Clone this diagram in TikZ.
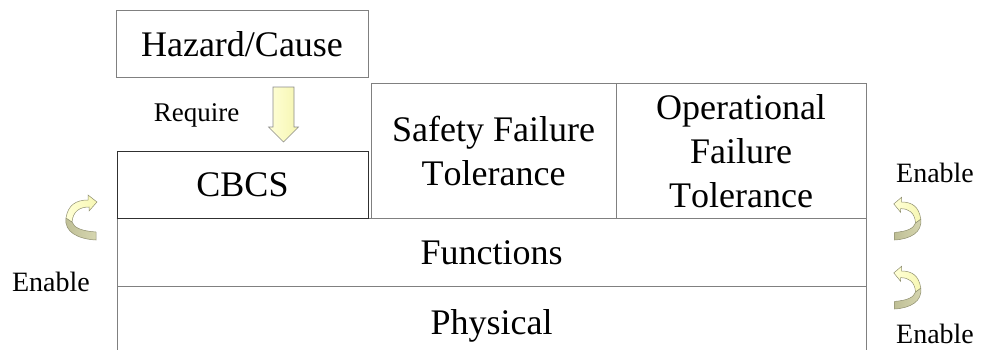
\documentclass[tikz,border=0pt]{standalone}
\usepackage{fontspec}
\setmainfont{Liberation Serif}[Kerning=Off]
\newfontfamily\layerfont{Liberation Serif}[Kerning=Off]

\definecolor{boxgray}{HTML}{808080}
\definecolor{cbcsline}{HTML}{303030}
\definecolor{ribbonlight}{HTML}{FFFFD6}
\definecolor{ribbonlightB}{HTML}{F7F7B4}
\definecolor{ribbondark}{HTML}{D6D6B0}
\definecolor{ribbondarkB}{HTML}{BFBF96}
\definecolor{ribbonedge}{HTML}{8F8F70}
\definecolor{arrowedge}{HTML}{8A8A8A}
\definecolor{arrowfillA}{HTML}{FFFFD8}
\definecolor{arrowfillB}{HTML}{F5F5B0}

\tikzset{
  layerbox/.style={draw=boxgray, line width=0.8pt, inner sep=0pt},
  layertext/.style={inner sep=0pt, align=center, anchor=base,
    font=\layerfont\fontsize{36pt}{44pt}\selectfont},
  smalllabel/.style={inner sep=0pt, anchor=base, font=\layerfont\fontsize{28pt}{34pt}\selectfont},
  % curved ribbon arrow, origin at the twist
  enablearrow/.pic={
    \shade[left color=ribbondarkB, right color=ribbondark, draw=ribbonedge, line width=0.5pt]
      (-2,-2) .. controls (-4,12) and (10,19) .. (28,20) -- (28,12)
      .. controls (14,11) and (6,8) .. (4,2) -- cycle;
    \shade[left color=ribbonlight, right color=ribbonlightB, draw=ribbonedge, line width=0.5pt]
      (-2,-2) .. controls (0,-15) and (8,-20) .. (20,-20) -- (20,-25) -- (29,-18)
      -- (21,-9) -- (21,-13) .. controls (12,-13) and (5,-9) .. (4,2) -- cycle;
  }
}

\begin{document}
\begin{tikzpicture}[x=1pt, y=-1pt]
  \useasboundingbox (0,0) rectangle (981,349);
  \clip (0,0) rectangle (981,349);

  % layer boxes
  \node[layerbox, minimum width=252pt, minimum height=67pt] (hazard) at (242,43.5) {};
  \node[layerbox, minimum width=245pt, minimum height=135pt] (safety) at (493.5,150.5) {};
  \node[layerbox, minimum width=250pt, minimum height=135pt] (operational) at (741,150.5) {};
  \node[layerbox, minimum width=749pt, minimum height=68pt] (functions) at (491.5,252) {};
  \node[layerbox, minimum width=749pt, minimum height=74pt] (physical) at (491.5,323) {};
  \node[layerbox, draw=cbcsline, minimum width=251pt, minimum height=67pt] (cbcs) at (242.5,184.5) {};
  \draw[cbcsline, line width=1.6pt] (cbcs.south west) -- (cbcs.south east);

  % block arrow from the hazard box down to CBCS
  \shade[left color=arrowfillA, right color=arrowfillB, draw=arrowedge, line width=0.6pt]
    (273,87) -- (294,87) -- (294,127) -- (298.5,127) -- (283.5,142)
    -- (268.5,127) -- (273,127) -- cycle;

  % enable arrows
  \pic at (68,220) {enablearrow};
  \pic[xscale=-0.87, yscale=0.95] at (919,221) {enablearrow};
  \pic[xscale=-0.87, yscale=0.95] at (919,290) {enablearrow};

  % labels
  \node[smalllabel] (enableL) at (51,291) {Enable};
  \node[smalllabel] (enableR1) at (935,182) {Enable};
  \node[smalllabel] (enableR2) at (935,343) {Enable};
  \node[smalllabel, font=\layerfont\fontsize{27pt}{32pt}\selectfont] (require) at (196.5,121) {Require};

  % layer texts (anchor base = baseline of the last line)
  \node[layertext] (hazardtext) at (242,56) {Hazard/Cause};
  \node[layertext] (safetytext) at (493.5,185.5) {Safety Failure\\Tolerance};
  \node[layertext] (operationaltext) at (741,207.5) {Operational\\Failure\\Tolerance};
  \node[layertext] (cbcstext) at (242.5,196) {CBCS};
  \node[layertext] (functionstext) at (491.5,264) {Functions};
  \node[layertext] (physicaltext) at (491.5,334) {Physical};
\end{tikzpicture}
\end{document}
